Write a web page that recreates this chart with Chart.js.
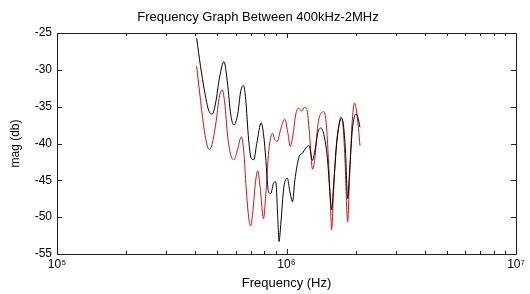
<!DOCTYPE html>
<html>
<head>
<meta charset="utf-8">
<script src="https://cdn.jsdelivr.net/npm/chart.js@4/dist/chart.umd.min.js"></script>
<style>
  html, body { margin: 0; padding: 0; background: #fff; }
  #wrap { width: 530px; height: 294px; position: relative; }
</style>
</head>
<body>
<div id="wrap"><canvas id="c" width="530" height="294"></canvas></div>
<script>
// ---- data (frequency in kHz, magnitude in dB) ----
const blackFreqKHz = [406,422,440,458,475,491,511,534,554,571,590,613,631,649,664,684,702,720,742,776,796,812,834,854,880,898,916,928,944,973,1008,1034,1062,1087,1135,1175,1214,1255,1296,1329,1370,1412,1455,1507,1545,1572,1609,1667,1736,1771,1807,1847,1881,1938,2008,2049,2090];
const blackMag = [-25.7,-29.5,-33.0,-35.5,-36.0,-34.5,-31.0,-28.9,-32.0,-36.0,-37.5,-36.0,-33.0,-32.1,-34.0,-39.5,-42.0,-42.2,-40.0,-37.2,-39.0,-42.0,-46.5,-46.8,-45.3,-45.2,-50.0,-53.3,-51.0,-46.0,-44.7,-46.5,-47.9,-45.0,-41.8,-41.3,-40.6,-40.3,-42.3,-41.0,-38.5,-37.9,-38.8,-42.0,-46.5,-49.0,-45.0,-39.0,-36.6,-37.5,-41.0,-47.5,-44.0,-38.0,-36.0,-36.5,-37.8];

const redFreqKHz = [406,418,435,449,460,472,491,511,525,538,554,571,590,610,636,651,667,684,698,712,731,749,768,794,812,837,869,889,913,944,983,1013,1039,1065,1098,1128,1166,1196,1227,1258,1299,1329,1370,1412,1459,1492,1522,1553,1572,1601,1641,1692,1726,1762,1797,1847,1881,1929,1978,2018,2059,2090];
const redMag = [-29.5,-33.0,-37.5,-40.0,-40.8,-40.3,-37.5,-33.5,-32.7,-34.5,-39.0,-41.5,-42.2,-41.0,-39.1,-41.0,-46.0,-50.0,-51.2,-49.5,-45.5,-43.7,-46.0,-50.2,-47.0,-41.0,-38.6,-39.5,-39.7,-38.0,-36.7,-38.5,-40.4,-39.0,-36.0,-35.2,-35.6,-35.1,-35.4,-38.5,-43.5,-42.0,-37.5,-35.9,-35.7,-37.5,-42.0,-48.0,-51.7,-47.0,-41.0,-37.5,-36.4,-37.5,-42.0,-50.6,-45.0,-37.5,-34.5,-35.5,-38.0,-40.3];

const yTicks = [-55,-50,-45,-40,-35,-30,-25];
const xMajorExp = [5,6,7];
const supers = {5:'\u2075',6:'\u2076',7:'\u2077'};

const toPts = (f, m) => f.map((v, i) => ({x: v * 1000, y: m[i]}));

const boxTicks = {
  id: 'boxTicks',
  afterDatasetsDraw(chart) {
    const {ctx, chartArea: a, scales} = chart;
    const xs = scales.x, ys = scales.y;
    ctx.save();
    ctx.strokeStyle = '#222';
    ctx.lineWidth = 1;
    ctx.beginPath();
    ctx.rect(Math.round(a.left) + 0.5, Math.round(a.top) + 0.5, Math.round(a.right - a.left), Math.round(a.bottom - a.top));
    for (let n = 5; n <= 6; n++) {
      for (let k = 1; k <= 9; k++) {
        const px = Math.round(xs.getPixelForValue(k * Math.pow(10, n))) + 0.5;
        const len = k === 1 ? 5 : 3;
        ctx.moveTo(px, a.bottom); ctx.lineTo(px, a.bottom - len);
        ctx.moveTo(px, a.top); ctx.lineTo(px, a.top + len);
      }
    }
    yTicks.forEach(v => {
      const py = Math.round(ys.getPixelForValue(v)) + 0.5;
      ctx.moveTo(a.left, py); ctx.lineTo(a.left + 5, py);
      ctx.moveTo(a.right, py); ctx.lineTo(a.right - 5, py);
    });
    ctx.stroke();
    ctx.restore();
  }
};

new Chart(document.getElementById('c'), {
  type: 'line',
  data: {
    datasets: [
      { label: 'black trace', data: toPts(blackFreqKHz, blackMag), borderColor: '#000000', borderWidth: 1, pointRadius: 0, cubicInterpolationMode: 'monotone', fill: false },
      { label: 'red trace', data: toPts(redFreqKHz, redMag), borderColor: 'rgb(215,15,15)', borderWidth: 1, pointRadius: 0, cubicInterpolationMode: 'monotone', fill: false }
    ]
  },
  options: {
    responsive: false,
    animation: false,
    events: [],
    layout: { padding: { left: 0, right: 14, top: 0, bottom: 0 } },
    plugins: {
      legend: { display: false },
      tooltip: { enabled: false },
      title: {
        display: true,
        text: 'Frequency Graph Between 400kHz-2MHz',
        color: '#000',
        font: { family: 'Liberation Sans, Arial, sans-serif', size: 13, weight: 'normal' },
        padding: { top: 10, bottom: 7.4 }
      }
    },
    scales: {
      x: {
        type: 'logarithmic',
        min: 1e5, max: 1e7,
        grid: { display: false, drawTicks: false, tickLength: 0 },
        border: { display: false },
        afterFit(s) { s.height = 40; },
        afterBuildTicks(s) {
          s.ticks = xMajorExp.map(e => ({ value: Math.pow(10, e) }));
        },
        ticks: {
          autoSkip: false, maxRotation: 0, padding: 3,
          color: '#000',
          font: { family: 'Liberation Sans, Arial, sans-serif', size: 12 },
          callback: (v) => { const e = Math.round(Math.log10(v)); return '10' + supers[e]; }
        },
        title: {
          display: true, text: 'Frequency (Hz)', color: '#000',
          font: { family: 'Liberation Sans, Arial, sans-serif', size: 13 },
          padding: { top: 0, bottom: 3 }
        }
      },
      y: {
        min: -55, max: -25,
        grid: { display: false, drawTicks: false, tickLength: 0 },
        border: { display: false },
        afterFit(s) { s.width = 57; },
        afterBuildTicks(s) { s.ticks = yTicks.map(v => ({ value: v })); },
        ticks: {
          padding: 5, color: '#000',
          font: { family: 'Liberation Sans, Arial, sans-serif', size: 12 }
        },
        title: {
          display: true, text: 'mag (db)', color: '#000',
          font: { family: 'Liberation Sans, Arial, sans-serif', size: 12 },
          padding: { top: 8, bottom: 0 }
        }
      }
    }
  },
  plugins: [boxTicks]
});
</script>
</body>
</html>
